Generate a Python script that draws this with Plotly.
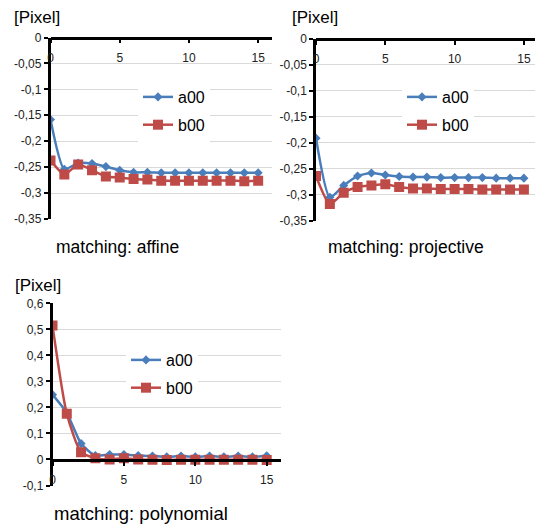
import plotly.graph_objects as go

W, H = 535, 525

iterations = list(range(16))

affine_a00 = [-0.158, -0.254, -0.242, -0.243, -0.249, -0.256, -0.260, -0.260, -0.261, -0.261,
              -0.261, -0.261, -0.261, -0.261, -0.261, -0.261]
affine_b00 = [-0.237, -0.264, -0.245, -0.256, -0.268, -0.270, -0.273, -0.274, -0.276, -0.276,
              -0.276, -0.276, -0.276, -0.276, -0.277, -0.276]

proj_a00 = [-0.191, -0.305, -0.282, -0.264, -0.258, -0.262, -0.265, -0.266, -0.266, -0.267,
            -0.267, -0.267, -0.267, -0.268, -0.268, -0.268]
proj_b00 = [-0.264, -0.318, -0.296, -0.285, -0.282, -0.280, -0.285, -0.288, -0.288, -0.289,
            -0.289, -0.289, -0.290, -0.290, -0.290, -0.290]

poly_a00 = [0.249, 0.179, 0.061, 0.015, 0.019, 0.019, 0.015, 0.013, 0.010, 0.013,
            0.010, 0.013, 0.010, 0.013, 0.010, 0.014]
poly_b00 = [0.515, 0.176, 0.028, 0.005, 0.000, 0.005, 0.000, -0.001, -0.002, -0.001,
            -0.001, -0.001, -0.001, -0.001, -0.001, -0.002]

x_tickvals = [0, 5, 10, 15]
x_ticktext = ["0", "5", "10", "15"]
top_y_tickvals = [0, -0.05, -0.1, -0.15, -0.2, -0.25, -0.3, -0.35]
top_y_ticktext = ["0", "-0,05", "-0,1", "-0,15", "-0,2", "-0,25", "-0,3", "-0,35"]
bot_y_tickvals = [0.6, 0.5, 0.4, 0.3, 0.2, 0.1, 0, -0.1]
bot_y_ticktext = ["0,6", "0,5", "0,4", "0,3", "0,2", "0,1", "0", "-0,1"]

series_names = ["a00", "b00"]
titles = ["matching: affine", "matching: projective", "matching: polynomial"]
unit_label = "[Pixel]"

BLUE = "#4a7ebb"
RED = "#be4b48"
FONT = "Liberation Sans"


def px_x(p):
    return p / W


def px_y(p):
    return 1 - p / H


fig = go.Figure()

panels = [
    dict(a=affine_a00, b=affine_b00, ax="x", ay="y", leg="legend"),
    dict(a=proj_a00, b=proj_b00, ax="x2", ay="y2", leg="legend2"),
    dict(a=poly_a00, b=poly_b00, ax="x3", ay="y3", leg="legend3"),
]

for p in panels:
    fig.add_trace(go.Scatter(
        x=iterations, y=p["a"], name=series_names[0], mode="lines+markers",
        line=dict(color=BLUE, width=2.5, shape="spline", smoothing=0.6),
        marker=dict(symbol="diamond", size=7, color=BLUE),
        xaxis=p["ax"], yaxis=p["ay"], legend=p["leg"], legendgroup=p["leg"] + "a",
    ))
    fig.add_trace(go.Scatter(
        x=iterations, y=p["b"], name=series_names[1], mode="lines+markers",
        line=dict(color=RED, width=2.5, shape="spline", smoothing=0.6),
        marker=dict(symbol="square", size=10, color=RED),
        xaxis=p["ax"], yaxis=p["ay"], legend=p["leg"], legendgroup=p["leg"] + "b",
    ))

tickfont = dict(family=FONT, size=12, color="#222222")


def xaxis_cfg(domain, rng, anchor_pos):
    return dict(
        domain=domain, range=rng, anchor="free", position=anchor_pos,
        showline=True, linecolor="black", linewidth=2.5,
        ticks="outside", ticklen=4, tickwidth=1.5, tickcolor="black",
        tickvals=x_tickvals, ticktext=x_ticktext, tickfont=tickfont,
        ticklabelstandoff=4, automargin=False,
        showgrid=False, zeroline=False, fixedrange=True,
    )


def yaxis_cfg(domain, rng, vals, text, anchor):
    return dict(
        domain=domain, range=rng, anchor=anchor,
        showline=True, linecolor="black", linewidth=2.5,
        ticks="outside", ticklen=4, tickwidth=1.5, tickcolor="black",
        tickvals=vals, ticktext=text, tickfont=tickfont,
        showgrid=True, gridcolor="#d9d9d9", gridwidth=1,
        zeroline=False, fixedrange=True, automargin=False,
    )


tl_y = [px_y(219), px_y(37.5)]
tr_y = [px_y(220.7), px_y(39)]
b_y = [px_y(485.5), px_y(303.3)]

fig.update_layout(
    template="none",
    width=W, height=H,
    margin=dict(l=0, r=0, t=0, b=0, pad=0),
    paper_bgcolor="white", plot_bgcolor="white",
    font=dict(family=FONT, color="black"),
    xaxis=xaxis_cfg([px_x(50.5), px_x(272)], [0, 16], tl_y[1]),
    yaxis=yaxis_cfg(tl_y, [-0.35, 0], top_y_tickvals, top_y_ticktext, "x"),
    xaxis2=xaxis_cfg([px_x(316), 1.0], [0, 15.8], tr_y[1]),
    yaxis2=yaxis_cfg(tr_y, [-0.35, 0], top_y_tickvals, top_y_ticktext, "x2"),
    xaxis3=xaxis_cfg([px_x(52.5), px_x(281)], [0, 16], px_y(460)),
    yaxis3=yaxis_cfg(b_y, [-0.1, 0.6], bot_y_tickvals, bot_y_ticktext, "x3"),
)

leg_common = dict(
    font=dict(family=FONT, size=16, color="black"),
    bgcolor="white", borderwidth=0, tracegroupgap=4,
    xanchor="left", yanchor="top", itemwidth=30,
)
fig.update_layout(
    legend=dict(x=px_x(138), y=px_y(80), entrywidth=85, **leg_common),
    legend2=dict(x=px_x(402), y=px_y(80), entrywidth=85, **leg_common),
    legend3=dict(x=px_x(126), y=px_y(343), **leg_common),
    showlegend=True,
)

ann_font = dict(family=FONT, size=17, color="black")
top_title_font = dict(family=FONT, size=17.5, color="black")
bot_title_font = dict(family=FONT, size=18.5, color="black")
annotations = [
    dict(text=unit_label, x=px_x(12), y=px_y(17), xanchor="left", yanchor="middle", font=ann_font),
    dict(text=unit_label, x=px_x(290), y=px_y(17), xanchor="left", yanchor="middle", font=ann_font),
    dict(text=unit_label, x=px_x(13), y=px_y(285), xanchor="left", yanchor="middle", font=ann_font),
    dict(text=titles[0], x=px_x(117.5), y=px_y(247), xanchor="center", yanchor="middle", font=top_title_font),
    dict(text=titles[1], x=px_x(406), y=px_y(247), xanchor="center", yanchor="middle", font=top_title_font),
    dict(text=titles[2], x=px_x(141), y=px_y(513), xanchor="center", yanchor="middle", font=bot_title_font),
]
for a in annotations:
    a.update(xref="paper", yref="paper", showarrow=False)
fig.update_layout(annotations=annotations)

fig.write_html("out.html", post_script="document.body.style.margin='0';",
               config={"displayModeBar": False})
